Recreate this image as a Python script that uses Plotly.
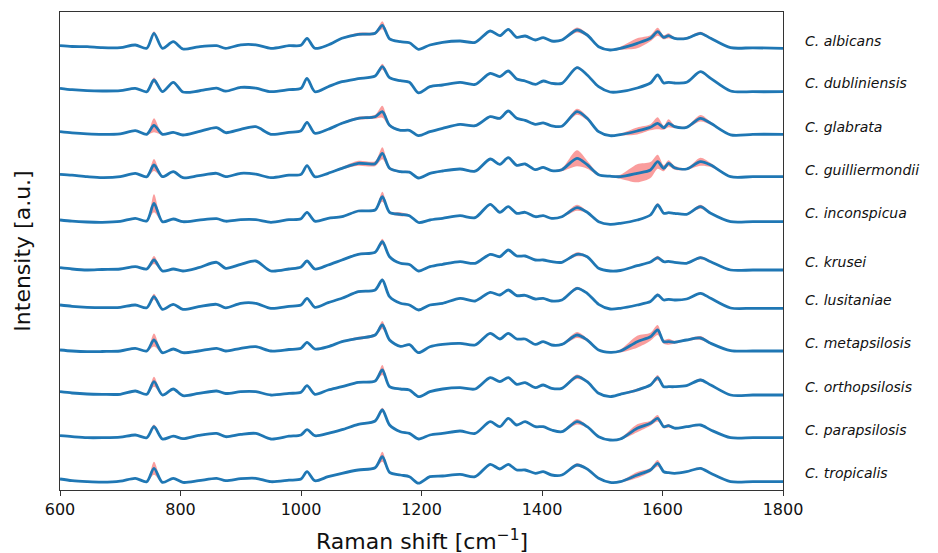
import plotly.graph_objects as go

# Raman shift grid (cm^-1)
WN = [600, 620, 645, 670, 700, 725, 744, 756, 770, 788,
      804, 830, 860, 875, 900, 925, 950, 980, 1000, 1010,
      1023, 1045, 1068, 1095, 1123, 1135, 1147, 1165, 1180, 1195,
      1214, 1235, 1264, 1289, 1314, 1330, 1344, 1358, 1372, 1389,
      1402, 1416, 1433, 1458, 1475, 1494, 1513, 1530, 1558, 1580,
      1592, 1602, 1610, 1620, 1640, 1663, 1680, 1713, 1750, 1800]

SPECIES = ["C. albicans", "C. dubliniensis", "C. glabrata", "C. guilliermondii",
           "C. inconspicua", "C. krusei", "C. lusitaniae", "C. metapsilosis",
           "C. orthopsilosis", "C. parapsilosis", "C. tropicalis"]

# vertical offsets (a.u.) of each stacked spectrum
OFFSETS = [441.7, 398.3, 355.7, 313.3, 268.3, 220.0, 181.7, 139.0, 95.0, 52.3, 8.3]
# label positions (a.u.)
LABEL_Y = [449, 407, 363, 320, 277, 228, 190, 147, 103, 60, 17]

albicans = [2.6, 1.8, 1.6, 0.6, 0.6, 3.3, 0.0, 15.0, 0.0, 6.6,
            -0.7, 1.5, 2.6, 0.0, 3.5, 3.5, 0.0, 2.6, 3.0, 10.0,
            0.0, 3.3, 10.0, 14.0, 15.0, 23.0, 9.5, 6.6, 5.5, -1.0,
            3.3, 6.0, 7.3, 6.0, 17.3, 12.6, 19.0, 11.0, 12.3, 8.3,
            10.6, 7.3, 8.3, 18.3, 13.3, 1.6, -1.7, 0.0, 5.0, 10.0,
            16.6, 11.0, 12.6, 10.0, 10.0, 15.0, 10.0, 0.6, 0.5, 0.0]
albicans_sd = [0.5, 0.5, 0.5, 0.5, 0.5, 0.6, 0.6, 2.0, 0.6, 0.8,
               0.5, 0.5, 0.5, 0.5, 0.6, 0.6, 0.5, 0.5, 0.6, 0.8,
               0.5, 0.6, 0.8, 1.5, 1.5, 4.0, 1.0, 0.8, 0.8, 0.6,
               0.6, 0.6, 1.0, 0.8, 0.8, 0.8, 0.8, 0.8, 0.8, 0.6,
               0.6, 0.6, 0.8, 2.5, 1.5, 0.8, 0.5, 1.5, 5.0, 3.0,
               4.0, 2.0, 2.5, 1.0, 1.0, 1.5, 1.0, 0.5, 0.5, 0.5]

dubliniensis = [3.4, 2.0, 1.0, 0.7, 1.0, 3.4, 0.0, 11.7, 0.0, 9.4,
                -0.3, 0.7, 3.6, 0.5, 4.3, 3.5, 0.0, 2.0, 3.4, 13.4,
                0.0, 5.0, 10.0, 13.0, 15.7, 25.0, 14.0, 11.0, 9.5, -1.2,
                5.0, 6.7, 9.3, 7.3, 18.4, 15.0, 20.7, 12.7, 10.7, 7.3,
                10.7, 8.3, 8.3, 24.0, 16.7, 5.0, -0.3, 0.0, 3.7, 8.7,
                16.7, 8.7, 9.4, 8.7, 9.4, 20.0, 13.3, 0.7, 0.0, 0.0]
dubliniensis_sd = [0.5, 0.5, 0.5, 0.5, 0.5, 0.5, 0.5, 2.5, 0.5, 0.6,
                   0.5, 0.5, 0.5, 0.5, 0.5, 0.5, 0.5, 0.5, 0.5, 0.6,
                   0.5, 0.5, 0.6, 0.8, 1.0, 3.0, 0.8, 0.6, 0.6, 0.5,
                   0.5, 0.5, 0.6, 0.6, 0.6, 0.6, 0.6, 0.6, 0.6, 0.5,
                   0.5, 0.5, 0.5, 1.2, 0.8, 0.5, 0.5, 0.5, 0.6, 0.6,
                   0.8, 0.6, 0.6, 0.5, 0.5, 0.8, 0.6, 0.5, 0.5, 0.5]

glabrata = [2.6, 1.5, 0.5, 0.0, 0.5, 3.6, 0.0, 9.0, 0.0, 2.0,
            -0.7, 2.6, 6.6, 1.6, 5.0, 7.6, 0.0, 2.0, 3.5, 12.0,
            1.0, 5.0, 11.0, 16.0, 17.6, 22.6, 9.0, 4.0, 4.0, -1.4,
            2.6, 6.0, 10.0, 8.6, 17.6, 16.0, 23.3, 16.0, 14.0, 10.0,
            11.5, 8.5, 8.0, 22.6, 16.0, 2.6, -1.4, -0.3, 3.3, 7.0,
            11.0, 6.6, 11.0, 7.6, 7.0, 16.0, 11.0, -0.5, 0.0, 0.0]
glabrata_sd = [0.5, 0.5, 0.5, 0.5, 0.5, 0.6, 0.6, 7.0, 0.6, 0.6,
               0.5, 0.5, 0.8, 0.5, 0.6, 0.8, 0.5, 0.5, 0.6, 1.0,
               0.5, 0.6, 1.0, 1.5, 2.0, 6.0, 1.5, 0.8, 0.8, 0.5,
               0.5, 0.6, 0.8, 0.8, 1.0, 1.0, 1.0, 1.0, 0.8, 0.6,
               0.6, 0.6, 0.8, 3.0, 2.0, 0.8, 0.5, 1.0, 3.5, 3.0,
               6.0, 2.0, 4.0, 1.5, 1.0, 3.3, 1.5, 0.5, 0.5, 0.5]

guilliermondii = [2.4, 1.5, 0.0, -1.0, 0.0, 3.4, 0.0, 11.7, 0.0, 5.0,
                  -1.0, 1.0, 3.4, 0.0, 3.4, 2.5, -1.0, 1.5, 2.3, 11.0,
                  0.0, 3.4, 8.4, 13.4, 13.0, 23.4, 8.4, 5.0, 4.5, -1.3,
                  3.4, 5.7, 7.7, 5.5, 17.7, 12.4, 19.0, 11.4, 12.7, 7.0,
                  9.4, 6.0, 7.0, 18.4, 12.0, 2.0, 0.5, 0.0, 3.4, 6.7,
                  15.0, 8.4, 13.4, 9.0, 7.7, 15.0, 11.7, 0.0, 0.0, 0.0]
guilliermondii_sd = [0.5, 0.5, 0.5, 0.5, 0.5, 0.6, 0.6, 6.0, 0.6, 0.8,
                     0.5, 0.5, 0.6, 0.5, 0.6, 0.6, 0.5, 0.5, 0.6, 1.0,
                     0.5, 0.6, 1.2, 2.5, 2.5, 6.0, 1.5, 1.0, 1.0, 0.5,
                     0.6, 0.8, 1.0, 0.8, 1.0, 1.0, 1.0, 1.0, 1.0, 0.8,
                     0.8, 0.8, 1.5, 8.0, 4.0, 1.0, 0.5, 2.0, 9.0, 8.0,
                     7.0, 3.0, 3.0, 2.0, 1.0, 4.0, 2.0, 0.5, 0.5, 0.5]

inconspicua = [1.7, 0.5, -0.3, -0.6, 0.3, 3.4, 0.7, 18.4, 0.0, 2.7,
               0.0, 1.5, 3.0, 0.5, 2.0, 2.0, -0.6, 2.0, 3.0, 9.4,
               0.5, 3.4, 5.0, 10.7, 11.7, 25.0, 9.4, 7.4, 6.0, -0.8,
               1.7, 3.4, 6.0, 4.0, 17.4, 9.4, 15.0, 8.4, 9.4, 5.0,
               6.0, 3.4, 5.0, 14.0, 9.4, 0.0, -2.6, -1.6, 1.7, 6.7,
               16.7, 8.4, 9.0, 8.4, 7.4, 15.0, 8.4, 0.0, 0.0, 0.0]
inconspicua_sd = [0.5, 0.5, 0.5, 0.5, 0.5, 0.6, 0.6, 9.0, 0.6, 0.6,
                  0.5, 0.5, 0.5, 0.5, 0.5, 0.5, 0.5, 0.5, 0.6, 0.8,
                  0.5, 0.6, 0.8, 1.0, 1.0, 5.0, 1.0, 2.0, 1.0, 0.5,
                  0.5, 0.5, 0.6, 0.6, 0.8, 0.8, 0.8, 0.6, 0.6, 0.5,
                  0.5, 0.5, 0.8, 3.0, 1.0, 0.5, 0.5, 0.5, 0.8, 0.8,
                  2.0, 0.8, 0.8, 0.6, 0.6, 2.0, 0.8, 0.5, 0.5, 0.5]

krusei = [2.3, 1.0, 0.0, 0.5, 1.0, 3.3, 1.0, 10.0, -1.0, 1.0,
          -1.0, 2.3, 7.7, 1.7, 5.6, 9.0, -1.0, 1.0, 3.0, 9.0,
          1.0, 5.0, 10.0, 15.7, 17.7, 28.3, 13.3, 6.7, 5.5, -1.0,
          3.3, 5.7, 8.3, 6.7, 15.7, 13.3, 20.0, 14.0, 14.0, 10.0,
          10.0, 8.3, 7.7, 15.7, 13.3, 1.7, -1.0, -0.5, 4.3, 8.0,
          12.3, 8.3, 8.6, 7.7, 6.7, 12.3, 8.3, 0.0, 0.0, 0.0]
krusei_sd = [0.5, 0.5, 0.5, 0.5, 0.5, 0.6, 0.6, 4.0, 0.6, 0.6,
             0.5, 0.5, 0.8, 0.5, 0.6, 0.8, 0.5, 0.5, 0.6, 0.8,
             0.5, 0.6, 0.8, 1.0, 1.0, 3.0, 1.0, 0.8, 0.6, 0.5,
             0.5, 0.5, 0.6, 0.6, 0.8, 0.8, 0.8, 0.8, 0.8, 0.6,
             0.6, 0.6, 0.6, 2.0, 1.0, 0.5, 0.5, 0.5, 0.8, 0.8,
             2.0, 0.8, 0.8, 0.6, 0.6, 1.5, 0.8, 0.5, 0.5, 0.5]

lusitaniae = [3.3, 2.0, 1.0, 0.6, 1.0, 3.3, 0.5, 11.6, -1.0, 4.0,
              -1.0, 1.6, 4.0, 0.5, 5.0, 5.0, 0.0, 2.0, 3.3, 10.0,
              1.0, 5.6, 10.0, 16.6, 18.3, 28.3, 11.6, 5.0, 3.3, -1.7,
              3.3, 5.0, 10.0, 7.3, 16.0, 13.3, 18.3, 12.7, 13.0, 9.3,
              10.0, 7.3, 8.3, 20.0, 15.0, 4.0, -0.7, 0.0, 3.3, 6.7,
              13.3, 8.3, 9.0, 8.3, 9.3, 15.0, 10.0, 0.3, 0.0, 0.0]
lusitaniae_sd = [0.5, 0.5, 0.5, 0.5, 0.5, 0.5, 0.5, 3.0, 0.5, 0.6,
                 0.5, 0.5, 0.5, 0.5, 0.5, 0.5, 0.5, 0.5, 0.5, 0.6,
                 0.5, 0.5, 0.6, 1.0, 1.0, 1.6, 0.8, 0.6, 0.5, 0.5,
                 0.5, 0.5, 0.6, 0.6, 0.6, 0.6, 0.6, 0.6, 0.6, 0.5,
                 0.5, 0.5, 0.5, 1.6, 0.8, 0.5, 0.5, 0.5, 0.6, 0.6,
                 1.6, 0.6, 0.6, 0.5, 0.5, 1.0, 0.6, 0.5, 0.5, 0.5]

metapsilosis = [1.0, 0.0, -0.7, -0.5, 0.0, 2.7, 0.0, 11.0, -1.7, 2.0,
                -1.7, 0.0, 2.7, 0.0, 2.7, 4.3, 0.0, 1.5, 2.7, 8.7,
                2.0, 4.3, 9.3, 12.7, 16.0, 26.0, 11.0, 4.6, 6.3, -1.7,
                4.3, 6.6, 7.7, 6.0, 17.7, 12.0, 17.7, 12.0, 12.0, 6.6,
                9.3, 6.0, 6.6, 16.0, 11.0, 1.0, -1.3, 0.0, 9.3, 14.3,
                21.0, 9.3, 9.3, 8.7, 11.0, 13.0, 7.7, 0.3, 0.0, 0.0]
metapsilosis_sd = [0.5, 0.5, 0.5, 0.5, 0.5, 0.6, 0.6, 6.5, 0.6, 0.6,
                   0.5, 0.5, 0.5, 0.5, 0.6, 0.6, 0.5, 0.5, 0.6, 0.8,
                   0.5, 0.6, 0.8, 1.5, 1.5, 4.0, 1.0, 0.8, 0.8, 0.5,
                   0.5, 0.6, 0.8, 0.6, 0.8, 0.8, 0.8, 0.8, 0.8, 0.6,
                   0.6, 0.6, 1.0, 3.0, 1.5, 0.6, 0.5, 1.5, 6.0, 4.0,
                   5.0, 2.0, 3.0, 1.5, 1.0, 2.0, 1.0, 0.5, 0.5, 0.5]

orthopsilosis = [3.3, 2.0, 1.0, 0.7, 0.7, 4.0, 0.7, 13.3, 0.0, 6.0,
                 -0.7, 1.6, 4.0, 1.5, 3.3, 3.3, 0.0, 1.6, 2.7, 9.3,
                 0.7, 5.0, 8.3, 12.7, 14.0, 25.0, 8.3, 6.0, 5.0, -1.7,
                 3.3, 6.0, 7.3, 6.0, 17.3, 13.3, 17.3, 10.7, 12.3, 7.3,
                 10.0, 6.7, 6.7, 18.3, 13.3, 1.7, -1.7, 0.7, 5.0, 10.0,
                 17.3, 8.3, 8.3, 8.3, 9.3, 15.0, 10.0, 0.0, 0.0, 0.0]
orthopsilosis_sd = [0.5, 0.5, 0.5, 0.5, 0.5, 0.6, 0.6, 5.0, 0.6, 0.6,
                    0.5, 0.5, 0.5, 0.5, 0.5, 0.5, 0.5, 0.5, 0.5, 0.8,
                    0.5, 0.5, 0.6, 0.8, 1.0, 5.0, 0.8, 0.6, 0.6, 0.5,
                    0.5, 0.5, 0.6, 0.6, 0.6, 0.6, 0.6, 0.6, 0.6, 0.5,
                    0.5, 0.5, 0.6, 2.3, 1.0, 0.5, 0.5, 0.8, 1.5, 1.2,
                    2.7, 1.0, 1.0, 0.6, 0.6, 1.6, 0.6, 0.5, 0.5, 0.5]

parapsilosis = [2.0, 1.0, 0.0, 0.0, 0.5, 2.7, 0.0, 11.0, -1.3, 1.5,
                -1.0, 2.3, 4.3, 1.0, 3.3, 4.3, -1.3, 1.5, 2.7, 8.0,
                2.0, 4.3, 8.0, 13.3, 16.7, 27.7, 12.7, 6.0, 4.3, -1.3,
                2.7, 4.3, 6.7, 4.3, 16.0, 11.0, 19.3, 12.7, 16.0, 11.0,
                11.0, 7.7, 6.0, 16.0, 11.0, 1.0, -2.3, -1.3, 9.4, 14.4,
                19.4, 11.0, 12.0, 9.5, 11.0, 12.7, 7.7, 0.0, 0.0, 0.0]
parapsilosis_sd = [0.5, 0.5, 0.5, 0.5, 0.5, 0.5, 0.5, 2.3, 0.5, 0.6,
                   0.5, 0.5, 0.5, 0.5, 0.5, 0.5, 0.5, 0.5, 0.5, 0.6,
                   0.5, 0.5, 0.6, 0.8, 1.0, 2.3, 0.8, 0.6, 0.6, 0.5,
                   0.5, 0.5, 0.6, 0.6, 0.6, 0.6, 0.6, 0.6, 0.6, 0.5,
                   0.5, 0.5, 0.6, 2.7, 1.2, 0.5, 0.5, 1.0, 4.0, 2.5,
                   3.3, 1.5, 1.7, 0.8, 0.8, 1.0, 0.6, 0.5, 0.5, 0.5]

tropicalis = [2.7, 1.0, 0.0, -0.5, 0.5, 3.4, 0.0, 13.4, -0.7, 3.4,
              -0.7, 1.0, 3.4, 1.0, 3.0, 3.4, 0.0, 1.5, 2.7, 10.0,
              1.0, 5.0, 8.4, 11.7, 14.0, 25.0, 9.4, 6.7, 5.0, -1.5,
              5.0, 5.7, 7.4, 5.0, 17.4, 12.7, 17.4, 11.7, 11.7, 8.4,
              10.0, 6.7, 6.7, 16.7, 12.7, 3.4, -0.7, 0.0, 6.7, 11.7,
              18.4, 10.0, 9.0, 8.4, 10.0, 13.4, 8.4, 0.0, 0.0, 0.0]
tropicalis_sd = [0.5, 0.5, 0.5, 0.5, 0.5, 0.6, 0.6, 6.5, 0.6, 0.6,
                 0.5, 0.5, 0.5, 0.5, 0.5, 0.5, 0.5, 0.5, 0.5, 0.8,
                 0.5, 0.5, 0.6, 0.8, 1.0, 5.0, 0.8, 0.6, 0.6, 0.5,
                 0.5, 0.5, 0.6, 0.6, 0.6, 0.6, 0.6, 0.6, 0.6, 0.5,
                 0.5, 0.5, 0.6, 1.7, 1.0, 0.5, 0.5, 0.8, 3.0, 2.0,
                 3.3, 1.0, 1.0, 0.6, 0.6, 1.0, 0.6, 0.5, 0.5, 0.5]

MEANS = [albicans, dubliniensis, glabrata, guilliermondii, inconspicua, krusei,
         lusitaniae, metapsilosis, orthopsilosis, parapsilosis, tropicalis]
SDS = [albicans_sd, dubliniensis_sd, glabrata_sd, guilliermondii_sd, inconspicua_sd,
       krusei_sd, lusitaniae_sd, metapsilosis_sd, orthopsilosis_sd, parapsilosis_sd,
       tropicalis_sd]

LINE_COLOR = "#1f77b4"
BAND_COLOR = "rgba(245, 60, 60, 0.5)"

fig = go.Figure()
for name, mean, sd, off in zip(SPECIES, MEANS, SDS, OFFSETS):
    upper = [off + m + s for m, s in zip(mean, sd)]
    lower = [off + m - s for m, s in zip(mean, sd)]
    center = [off + m for m in mean]
    fig.add_trace(go.Scatter(x=WN, y=upper, mode="lines",
                             line=dict(width=0, shape="spline", smoothing=0.8),
                             hoverinfo="skip", showlegend=False))
    fig.add_trace(go.Scatter(x=WN, y=lower, mode="lines", fill="tonexty",
                             fillcolor=BAND_COLOR,
                             line=dict(width=0, shape="spline", smoothing=0.8),
                             hoverinfo="skip", showlegend=False))
    fig.add_trace(go.Scatter(x=WN, y=center, mode="lines", name=name,
                             line=dict(color=LINE_COLOR, width=2.8,
                                       shape="spline", smoothing=0.8),
                             showlegend=False))

for name, ly in zip(SPECIES, LABEL_Y):
    fig.add_annotation(x=1.0277, xref="paper", y=ly, yref="y",
                       text="<i>" + name + "</i>", showarrow=False,
                       xanchor="left", yanchor="middle",
                       font=dict(family="DejaVu Sans", size=14, color="#111"))

fig.add_annotation(x=0.5, xref="paper", y=-0.105, yref="paper",
                   text="Raman shift [cm<sup>\u22121</sup>]", showarrow=False,
                   xanchor="center", yanchor="middle",
                   font=dict(family="DejaVu Sans", size=22, color="#111"))
fig.add_annotation(x=-0.053, xref="paper", y=0.5, yref="paper",
                   text="Intensity [a.u.]", showarrow=False, textangle=-90,
                   xanchor="center", yanchor="middle",
                   font=dict(family="DejaVu Sans", size=22, color="#111"))

# page body has an 8px margin, so the figure is sized/offset to compensate
fig.update_layout(
    width=930, height=545,
    margin=dict(l=52, r=155, t=4, b=63),
    plot_bgcolor="white", paper_bgcolor="white",
    showlegend=False,
)
fig.update_xaxes(range=[600, 1800], tickvals=[600, 800, 1000, 1200, 1400, 1600, 1800],
                 ticks="outside", ticklen=5, tickcolor="#333",
                 showline=True, linecolor="#333", linewidth=1.2, mirror=True,
                 showgrid=False, zeroline=False,
                 tickfont=dict(family="DejaVu Sans", size=16, color="#111"))
fig.update_yaxes(range=[0, 478], showticklabels=False, ticks="",
                 showline=True, linecolor="#333", linewidth=1.2, mirror=True,
                 showgrid=False, zeroline=False)

fig.write_html("out.html")
